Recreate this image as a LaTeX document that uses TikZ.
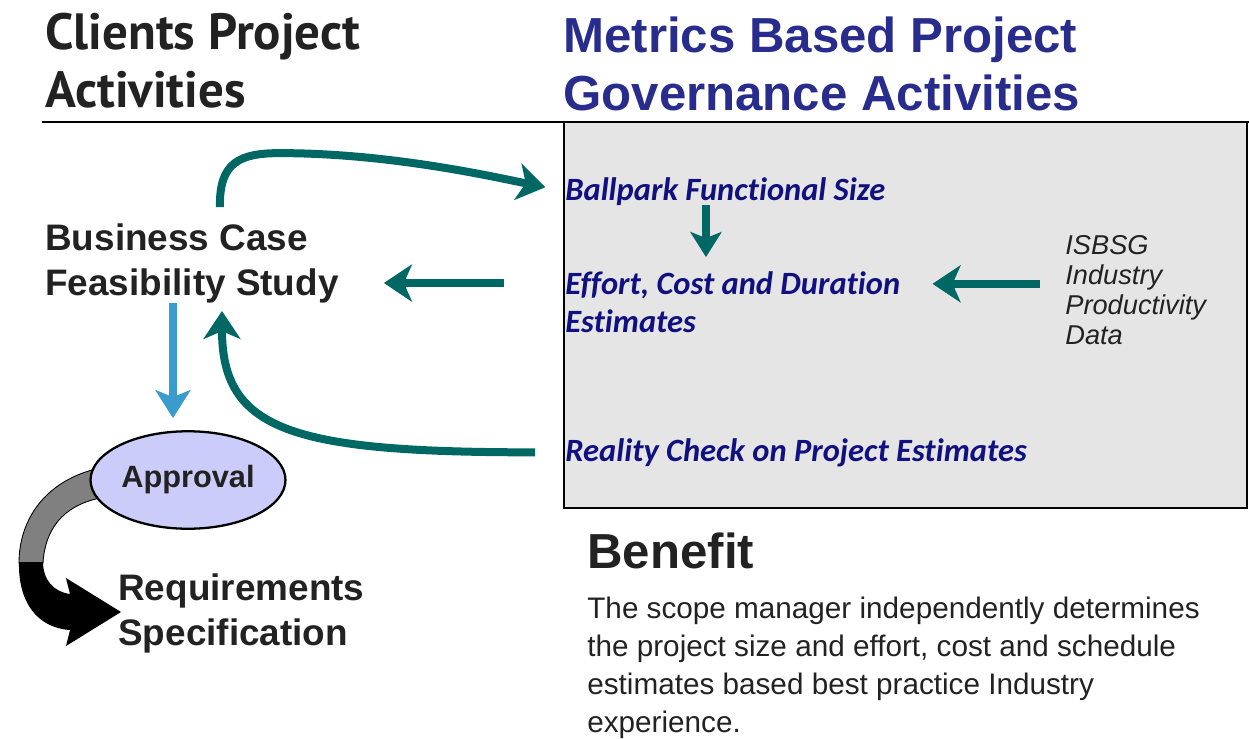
\documentclass[tikz,border=0pt]{standalone}
\usepackage{fontspec}
\setmainfont{Liberation Sans}
\newfontfamily\headfont{PT Sans}
\newfontfamily\boxfont[Ligatures=NoCommon]{Carlito}
\usetikzlibrary{arrows.meta,shapes.geometric}
\definecolor{Teal}{RGB}{0,104,100}
\definecolor{SkyBlue}{RGB}{58,156,204}
\definecolor{HeadBlue}{RGB}{40,44,140}
\definecolor{Navy}{RGB}{16,16,128}
\definecolor{BoxGray}{RGB}{229,229,229}
\definecolor{Lavender}{RGB}{204,204,250}
\definecolor{InkGray}{RGB}{34,34,34}
\definecolor{BandGray}{RGB}{128,128,128}

\begin{document}
\begin{tikzpicture}[x=0.02cm, y=-0.02cm,
    txt/.style={inner sep=0pt, anchor=base west, align=left},
    lefthead/.style={txt, text=InkGray, font=\headfont\bfseries\fontsize{29}{33}\selectfont},
    righthead/.style={txt, text=HeadBlue, font=\bfseries\fontsize{28}{33}\selectfont},
    activity/.style={txt, text=InkGray, font=\bfseries\fontsize{21}{25.5}\selectfont},
    metric/.style={txt, text=Navy, font=\boxfont\bfseries\itshape\fontsize{18.5}{21.5}\selectfont},
    source/.style={txt, text=InkGray, font=\itshape\fontsize{15.5}{17}\selectfont},
    approvalnode/.style={ellipse, draw=black, line width=1.3pt, fill=Lavender, inner sep=0pt,
      minimum width=3.9cm, minimum height=1.95cm, text=InkGray,
      font=\bfseries\fontsize{17.5}{20}\selectfont},
    tealarr/.style={-{Stealth[length=0.56cm, width=0.74cm, inset=0.16cm]}, line width=0.16cm, draw=Teal},
    smallarr/.style={-{Stealth[length=0.5cm, width=0.62cm, inset=0.12cm]}, line width=0.17cm, draw=Teal},
    skyarr/.style={-{Stealth[length=0.56cm, width=0.7cm, inset=0.14cm]}, line width=0.15cm, draw=SkyBlue}
  ]
    \useasboundingbox (0,0) rectangle (1249,738);
    \filldraw[fill=BoxGray, draw=black, line width=1.6pt] (564,122) rectangle (1247,508);
    \draw[line width=1.6pt] (42,122) -- (1249,122);

    \filldraw[fill=BandGray, draw=black, line width=0.5pt] (100,468) .. controls (45,480) and (19,520) .. (19,563)
      -- (43,563) .. controls (45,530) and (62,506) .. (100,498) -- cycle;
    \fill[black] (19,562) .. controls (18,603) and (38,628) .. (70,630) -- (66,646) -- (121,612) -- (66,578)
      -- (70,594) .. controls (54,592) and (43,580) .. (43,562) -- cycle;

    \node[lefthead] (clients) at (45,107) {Clients Project\\Activities};
    \node[righthead] (metrics) at (563,110) {Metrics Based Project\\Governance Activities};
    \node[activity] (bcase) at (45,295) {Business Case\\Feasibility Study};
    \node[approvalnode] (approval) at (188,480) {Approval};
    \node[activity] (reqs) at (118,645) {Requirements\\Specification};
    \node[metric] (ball) at (565,200) {Ballpark Functional Size};
    \node[metric] (effort) at (565,332) {Effort, Cost and Duration\\Estimates};
    \node[metric] (reality) at (565,461) {Reality Check on Project Estimates};
    \node[source] (isbsg) at (1065,344) {ISBSG\\Industry\\Productivity\\Data};
    \node[txt, text=InkGray, font=\bfseries\fontsize{28}{33}\selectfont] (benefit) at (587,568) {Benefit};
    \node[txt, text=InkGray, font=\fontsize{16.9}{21.6}\selectfont] (gain) at (587,732)
      {The scope manager independently determines\\the project size and effort, cost and schedule\\estimates based best practice Industry\\experience.};

    \coordinate (effortin) at ([xshift=-1.22cm, yshift=0.98cm]effort.base west);
    \coordinate (skytop) at ([xshift=2.56cm]bcase.south west);
    \coordinate (balldown) at ([xshift=2.82cm]ball.south west);
    \coordinate (isbsgout) at ([yshift=0.12cm]isbsg.west);

    \draw[tealarr, shorten >=0.4cm] ([xshift=3.5cm, yshift=0.32cm]bcase.north west)
      .. controls +(-1,-45) and +(-40,0) .. ++(60,-54)
      .. controls +(110,0) and +(-70,-14) .. (ball.west);
    \draw[tealarr, shorten >=0.9cm] (effortin) -- (effortin -| bcase.east);
    \draw[tealarr, shorten <=0.6cm, shorten >=0.16cm] (reality.west)
      .. controls +(-273,0) and +(0,128) .. ([xshift=3.54cm]bcase.south west);
    \draw[skyarr, shorten >=0.24cm] (skytop) -- (skytop |- approval.north);
    \draw[smallarr, shorten >=0.28cm] (balldown) -- (balldown |- effort.north);
    \draw[tealarr, shorten <=0.5cm, shorten >=0.64cm] (isbsgout) -- (isbsgout -| effort.east);
  \end{tikzpicture}
\end{document}
